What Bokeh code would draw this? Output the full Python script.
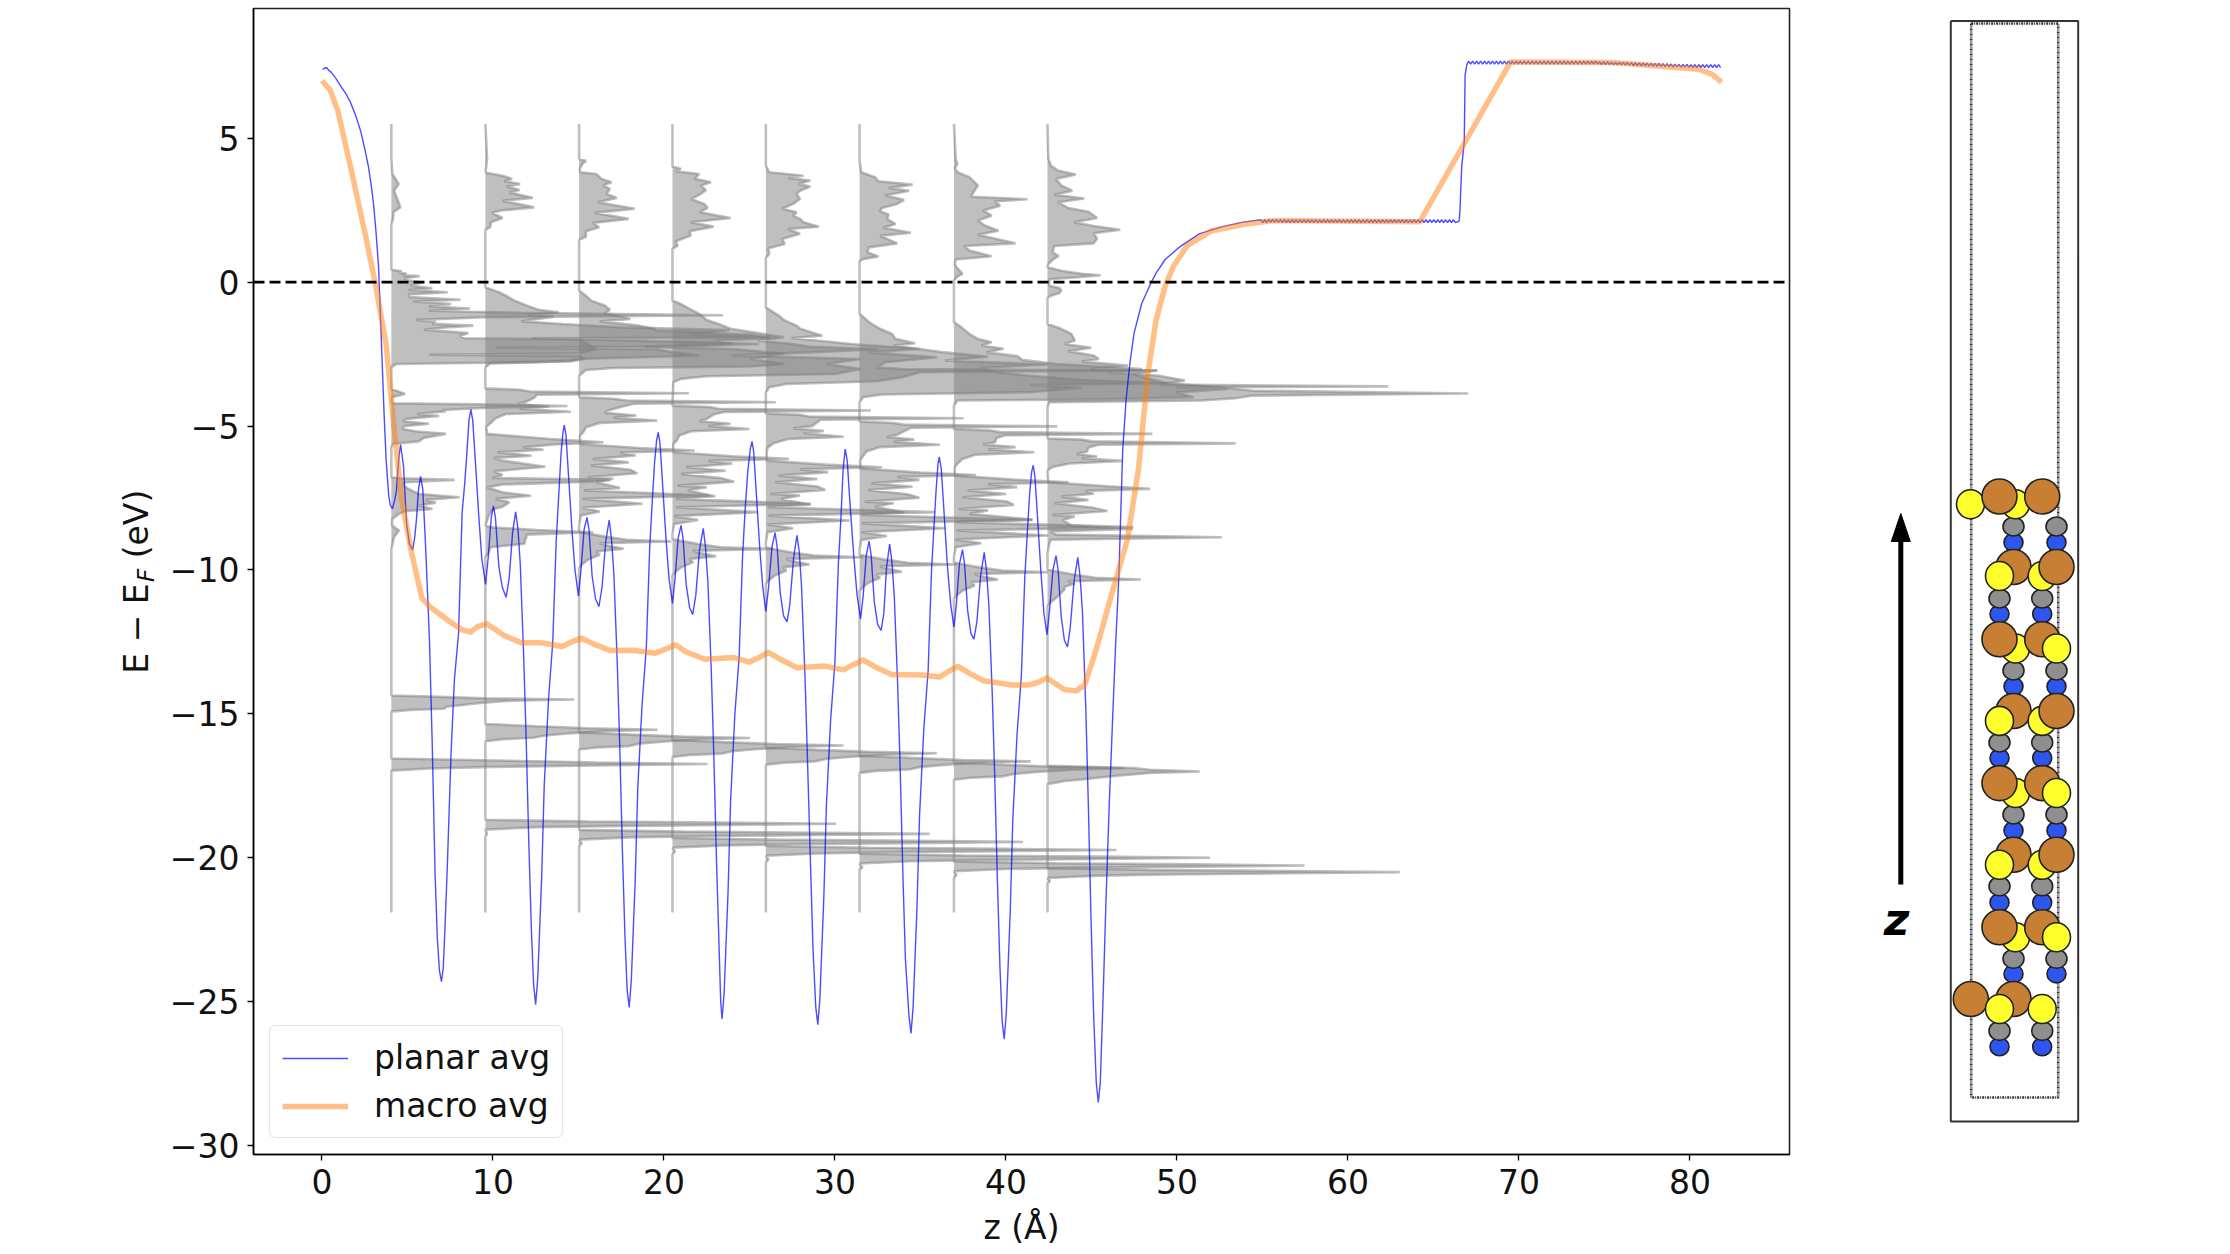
import math
import numpy as np
from bokeh.core.properties import value
from bokeh.embed import file_html
from bokeh.layouts import row
from bokeh.models import ColumnDataSource, FixedTicker, Range1d, Span
from bokeh.plotting import figure
from bokeh.resources import INLINE

x_ticks = [0, 10, 20, 30, 40, 50, 60, 70, 80]
y_ticks = [5, 0, -5, -10, -15, -20, -25, -30]
y_labels = {5: "5", 0: "0", -5: "\u22125", -10: "\u221210", -15: "\u221215", -20: "\u221220", -25: "\u221225", -30: "\u221230"}

planar_head = [(0.03,7.4),(0.27,7.46),(0.4,7.36),(0.54,7.3),(0.8,7.1),(1.08,6.83),(1.4,6.55),(1.67,6.25),(2.0,5.75),(2.27,5.24),(2.5,4.65),(2.72,4.02),(2.9,3.3),(3.02,2.72),(3.17,1.7),(3.31,0.56),(3.46,-1.75),(3.55,-3.19),(3.64,-4.63),(3.76,-6.22),(3.9,-7.37),(4.0,-7.75),(4.12,-7.87),(4.25,-7.6),(4.36,-7.23),(4.5,-6.1),(4.6,-5.64),(4.77,-6.38),(4.95,-8.38),(5.12,-9.1),(5.3,-9.3),(5.42,-8.9),(5.53,-8.24),(5.65,-7.2),(5.77,-6.75),(5.9,-7.2),(6.05,-9),(6.15,-10.4),(6.29,-12.45),(6.45,-16),(6.62,-20.6),(6.75,-22.8),(6.87,-23.9),(6.99,-24.3)]
planar_well_1 = [(7.1,-23.8),(7.2,-22.4),(7.34,-20.2),(7.55,-16.4),(7.75,-13.8),(7.99,-12.2),(8.2,-8),(8.35,-7),(8.47,-6),(8.6,-4.8),(8.71,-4.42),(8.82,-4.8),(8.95,-6),(9.16,-8),(9.35,-9.6),(9.57,-10.5),(9.72,-9.6),(9.9,-8.2),(10.03,-7.77),(10.15,-8.2),(10.35,-9.9),(10.55,-10.6),(10.77,-10.95),(10.95,-10.3),(11.15,-8.7),(11.33,-7.98),(11.47,-8.6),(11.6,-9.8),(11.8,-13),(11.95,-16),(12.1,-19.5),(12.25,-22.5),(12.38,-24.4),(12.5,-25.1)]
planar_well_2 = [(12.62,-24.2),(12.85,-20.7),(13.0,-17.5),(13.25,-14.5),(13.5,-12.5),(13.7,-9),(13.85,-7.4),(13.98,-6),(14.08,-5.3),(14.17,-4.97),(14.27,-5.3),(14.42,-6.7),(14.62,-8.6),(14.8,-10),(15,-10.9),(15.15,-10),(15.33,-8.6),(15.5,-8.17),(15.62,-8.6),(15.8,-10.2),(16,-11),(16.2,-11.27),(16.38,-10.6),(16.6,-9),(16.8,-8.27),(16.93,-8.9),(17.07,-10.1),(17.27,-13.2),(17.42,-16.2),(17.57,-19.7),(17.72,-22.7),(17.85,-24.6),(17.97,-25.2)]
planar_well_3 = [(18.09,-24.3),(18.32,-20.8),(18.47,-17.6),(18.72,-14.7),(18.97,-12.7),(19.17,-9.2),(19.32,-7.6),(19.45,-6.3),(19.57,-5.5),(19.67,-5.22),(19.77,-5.6),(19.92,-7),(20.12,-8.9),(20.3,-10.3),(20.5,-11.16),(20.65,-10.3),(20.83,-8.9),(21,-8.45),(21.12,-8.9),(21.3,-10.5),(21.5,-11.3),(21.68,-11.55),(21.86,-10.9),(22.08,-9.3),(22.3,-8.55),(22.43,-9.2),(22.57,-10.4),(22.77,-13.5),(22.92,-16.5),(23.07,-20),(23.22,-23),(23.32,-25),(23.4,-25.6)]
planar_well_4 = [(23.52,-24.7),(23.75,-21.2),(23.9,-18),(24.15,-15),(24.4,-13),(24.6,-9.5),(24.75,-7.9),(24.9,-6.6),(25.05,-5.8),(25.15,-5.53),(25.25,-5.9),(25.4,-7.3),(25.6,-9.2),(25.78,-10.6),(25.96,-11.44),(26.12,-10.6),(26.32,-9.2),(26.5,-8.7),(26.62,-9.2),(26.8,-10.8),(27,-11.6),(27.2,-11.8),(27.36,-11.2),(27.58,-9.6),(27.78,-8.8),(27.92,-9.4),(28.05,-10.6),(28.25,-13.7),(28.4,-16.7),(28.57,-20.2),(28.72,-23.2),(28.88,-25.2),(29,-25.8)]
planar_well_5 = [(29.12,-24.9),(29.35,-21.4),(29.5,-18.2),(29.75,-15.2),(30,-13.2),(30.2,-9.8),(30.35,-8.2),(30.48,-6.5),(30.6,-5.8),(30.72,-6.2),(30.87,-7.6),(31.1,-9.5),(31.3,-10.9),(31.5,-11.7),(31.65,-10.9),(31.83,-9.5),(32,-9),(32.12,-9.5),(32.3,-11.1),(32.5,-11.9),(32.7,-12.1),(32.86,-11.5),(33.02,-9.9),(33.2,-9.1),(33.33,-9.7),(33.47,-10.9),(33.67,-14),(33.82,-17),(33.97,-20.5),(34.12,-23.5),(34.33,-25.5),(34.45,-26.1)]
planar_well_6 = [(34.57,-25.2),(34.8,-21.7),(34.95,-18.5),(35.2,-15.5),(35.45,-13.5),(35.65,-10),(35.8,-8.4),(35.93,-7.1),(36.03,-6.3),(36.1,-6.07),(36.22,-6.5),(36.37,-7.9),(36.57,-9.8),(36.77,-11.2),(36.96,-11.99),(37.1,-11.2),(37.28,-9.8),(37.46,-9.29),(37.58,-9.8),(37.76,-11.4),(37.95,-12.2),(38.13,-12.4),(38.3,-11.8),(38.52,-10.2),(38.73,-9.39),(38.86,-10),(39,-11.2),(39.2,-14.3),(39.35,-17.3),(39.5,-20.8),(39.65,-23.8),(39.78,-25.7),(39.9,-26.3)]
planar_well_7 = [(40.02,-25.4),(40.25,-21.9),(40.4,-18.7),(40.65,-15.7),(40.9,-13.7),(41.1,-10.3),(41.25,-8.7),(41.38,-7.4),(41.5,-6.6),(41.6,-6.36),(41.7,-6.8),(41.85,-8.2),(42.05,-10.1),(42.22,-11.5),(42.4,-12.25),(42.55,-11.4),(42.75,-10),(42.93,-9.5),(43.05,-10),(43.23,-11.6),(43.42,-12.45),(43.6,-12.67),(43.76,-12),(43.98,-10.4),(44.2,-9.56),(44.33,-10.2),(44.47,-11.4),(44.67,-14.8),(44.82,-18.2),(44.97,-22),(45.12,-25.3),(45.28,-27.8),(45.4,-28.5)]
planar_rise = [(45.52,-27.8),(45.7,-24.5),(45.85,-21.5),(46.05,-18),(46.25,-15),(46.4,-12.8),(46.6,-10.25),(46.83,-5.8),(47.03,-4.05),(47.26,-2.76),(47.5,-1.75),(47.94,-0.74),(48.5,0),(48.8,0.33),(49.3,0.78),(50.1,1.2),(51.3,1.68),(52.6,1.92),(53.8,2.08)]
planar_plateau_low = [2.17,2.07,2.17,2.07,2.18,2.08,2.18,2.08,2.18,2.08,2.17,2.07,2.17,2.07,2.17,2.07,2.17,2.07,2.17,2.07,2.17,2.07,2.17,2.07,2.17,2.07,2.17,2.07,2.17,2.07,2.17,2.07,2.17,2.07,2.17,2.07,2.17,2.07,2.17,2.07,2.17,2.07,2.17,2.07,2.17,2.07,2.17,2.07,2.17,2.07,2.17,2.07,2.17,2.07,2.17,2.07,2.17,2.07,2.17,2.07,2.17,2.07,2.17,2.07,2.17,2.07,2.17,2.07,2.17,2.07,2.17,2.07,2.17,2.07,2.17,2.07,2.17,2.07,2.17,2.07,2.17,2.07,2.17,2.07,2.17,2.07,2.17,2.07,2.17,2.07,2.17,2.07,2.17,2.07,2.17,2.07,2.17,2.07,2.17,2.07]
planar_jump = [(66.5,2.12),(66.55,2.5),(66.65,4),(66.8,4.88),(66.85,7.2),(66.95,7.55)]
planar_plateau_high = [7.68,7.58,7.68,7.58,7.68,7.58,7.68,7.58,7.68,7.58,7.68,7.58,7.68,7.58,7.68,7.58,7.68,7.58,7.68,7.58,7.68,7.58,7.68,7.58,7.68,7.58,7.68,7.58,7.68,7.58,7.68,7.58,7.68,7.58,7.68,7.58,7.68,7.58,7.68,7.58,7.68,7.58,7.68,7.58,7.68,7.58,7.68,7.58,7.68,7.58,7.68,7.58,7.68,7.58,7.68,7.58,7.68,7.58,7.68,7.58,7.68,7.58,7.68,7.58,7.68,7.58,7.66,7.56,7.66,7.56,7.66,7.56,7.65,7.55,7.65,7.55,7.65,7.55,7.64,7.54,7.64,7.54,7.63,7.53,7.63,7.53,7.62,7.52,7.62,7.52,7.61,7.51,7.61,7.51,7.6,7.5,7.6,7.5,7.59,7.49,7.59,7.49,7.58,7.48,7.58,7.48,7.57,7.47,7.57,7.47,7.57,7.47,7.56,7.46,7.56,7.46,7.56,7.46,7.56,7.46,7.56,7.46,7.56,7.46,7.56,7.46,7.56,7.46]

macro_curve = [(0,7.0),(0.48,6.68),(0.93,5.96),(1.67,4.02),(2.57,1.57),(3.16,-0.16),(3.76,-2.18),(4.15,-4.63),(4.65,-7.5),(5.24,-9.4),(5.85,-10.98),(6.3,-11.27),(7.49,-11.8),(8.2,-12.08),(8.69,-12.16),(9.1,-11.97),(9.63,-11.87),(10.1,-12.05),(10.62,-12.27),(11.67,-12.53),(12.85,-12.53),(14.05,-12.66),(14.6,-12.5),(15.18,-12.37),(15.8,-12.55),(16.88,-12.8),(18.2,-12.79),(19.5,-12.89),(20.1,-12.75),(20.68,-12.6),(21.3,-12.85),(22.4,-13.1),(24.05,-13.04),(25.0,-13.2),(25.6,-13.03),(26.1,-12.86),(26.8,-13.1),(27.8,-13.4),(29.4,-13.34),(30.5,-13.47),(31.1,-13.28),(31.66,-13.13),(32.3,-13.35),(33.3,-13.63),(35.1,-13.65),(36.1,-13.72),(36.7,-13.5),(37.2,-13.35),(37.9,-13.6),(38.7,-13.85),(40.4,-14),(41.3,-14),(41.9,-13.9),(42.4,-13.75),(42.9,-13.95),(43.4,-14.15),(44.1,-14.2),(44.6,-14),(45.25,-12.82),(46.26,-10.68),(47.1,-8.95),(47.75,-6.5),(48.3,-3.18),(48.78,-1.32),(49.3,-0.15),(49.8,0.56),(50.6,1.27),(52,1.78),(54,2.02),(55.65,2.14),(64.2,2.1),(69.5,7.65),(75.5,7.63),(80.5,7.4),(81.3,7.22),(81.85,6.95)]

dos_baselines = [4.06, 9.56, 15.04, 20.5, 25.96, 31.44, 36.96, 42.43]
dos_top = 5.5
dos_bottom = -21.9

dos_col_1 = [(4.3,0),(3.76,0.06),(3.41,0.43),(3.18,0.16),(2.89,0.35),(2.6,0.53),(2.43,0.12),(2.2,0.1),(2.02,0),
 (0.43,0),(0.38,0.6),(0.33,0.45),(0.29,0.9),(0.24,0.65),(0.21,1.65),(0.14,0.75),(0.06,1),(0,1.8),(-0.12,1.1),(-0.21,2.4),(-0.27,1),(-0.35,3.3),(-0.43,1),(-0.52,1.1),(-0.61,4.05),(-0.67,1.25),(-0.76,3.5),(-0.84,2.2),(-0.92,4.6),(-0.99,2.2),(-1.06,7.5),(-1.15,19.4),(-1.22,5.5),(-1.31,1.45),(-1.38,2.6),(-1.45,2.4),(-1.51,4.8),(-1.57,3.2),(-1.65,1.9),(-1.71,3.2),(-1.77,4.5),(-1.86,4),(-1.95,4.3),(-1.98,11),(-2.15,11.5),(-2.32,12),(-2.47,11),(-2.52,2.2),(-2.56,11),(-2.67,11.3),(-2.75,10.5),(-2.8,5.5),(-2.84,0.3),(-2.96,0),
 (-3.71,0),(-3.88,0.8),(-4,0.05),(-4.14,0),(-4.21,0.1),(-4.24,5),(-4.3,10.3),(-4.37,5.3),(-4.44,3),(-4.48,3.2),(-4.58,1.5),(-4.65,2.8),(-4.75,0.85),(-4.83,0.7),(-4.92,2.2),(-5,0.75),(-5.1,0.65),(-5.19,1.5),(-5.27,3.2),(-5.41,1.9),(-5.53,1.6),(-5.62,0.1),(-5.74,0),
 (-6.78,0),(-6.81,0.5),(-6.87,3.7),(-6.95,0.8),(-7.07,0.7),(-7.18,1),(-7.36,1.6),(-7.47,4),(-7.57,2),(-7.66,2.6),(-7.76,1.6),(-7.88,2.4),(-7.96,0.8),(-8.05,0.45),(-8.23,0.05),(-8.46,0.05),(-8.63,0.45),(-8.86,0.15),(-9.15,0.05),(-9.27,0),
 (-14.36,0),(-14.4,2.4),(-14.46,5.5),(-14.5,10.7),(-14.54,7),(-14.62,5.2),(-14.68,4.3),(-14.75,3.2),(-14.82,3.1),(-14.86,1.1),(-14.92,0),
 (-16.55,0),(-16.62,6),(-16.69,12),(-16.74,18.5),(-16.79,12),(-16.84,6),(-16.9,2.2),(-16.97,0)]

dos_col_2 = [(4.28,0.1),(3.88,0.02),(3.8,0.04),(3.7,1.0),(3.59,1.56),(3.51,1.11),(3.41,2.03),(3.32,1.25),(3.2,2.0),(3.12,1.4),(2.93,2.77),(2.83,1.0),(2.6,2.85),(2.49,0.9),(2.41,0.4),(2.23,1.0),(2.08,0.33),(1.91,0.28),(1.82,0),
 (-0.18,0),(-0.35,0.8),(-0.47,1.2),(-0.64,1.7),(-0.81,2.4),(-0.96,3.1),(-1.05,4.3),(-1.13,2.5),(-1.2,4),(-1.36,2.1),(-1.45,4.5),(-1.57,8),(-1.66,14.3),(-1.82,12),(-1.91,16.6),(-1.95,2.7),(-2.03,9),(-2.15,16),(-2.24,11),(-2.27,0.6),(-2.33,10),(-2.44,11),(-2.55,12.5),(-2.67,5.5),(-2.72,5),(-2.78,3),(-2.82,0.3),(-2.96,0),
 (-3.69,0),(-3.74,2),(-3.8,2.6),(-3.86,11.9),(-3.91,3),(-4.0,2.9),(-4.15,2.4),(-4.23,1.9),(-4.32,3.7),(-4.4,2),(-4.5,5),(-4.58,1.2),(-4.73,0.6),(-4.9,0.3),(-5.02,0.05),
 (-5.27,0.1),(-5.45,3.8),(-5.56,6.9),(-5.64,4),(-5.74,2.2),(-5.82,3.4),(-5.91,0.7),(-6.03,2.7),(-6.11,0.5),(-6.2,1),(-6.41,3.5),(-6.57,0.5),(-6.7,1),(-6.8,0.4),(-6.87,7.3),(-6.93,6),(-7.03,1),(-7.13,0.1),(-7.3,1),(-7.42,2.67),(-7.53,0.6),(-7.65,1.4),(-7.8,1),(-7.91,0.4),(-8.11,0.2),
 (-8.45,0),(-8.52,0.4),(-8.61,3),(-8.69,6.3),(-8.77,2.4),(-8.86,2.4),(-8.98,2.3),(-9.09,2.3),(-9.21,0.3),(-9.38,0.2),(-9.56,0),
 (-15.35,0),(-15.43,3),(-15.5,6),(-15.55,10.06),(-15.6,7),(-15.68,4.8),(-15.75,3.5),(-15.83,2.8),(-15.88,1),(-15.95,0),
 (-18.68,0),(-18.74,6),(-18.78,14),(-18.82,20.5),(-18.86,14),(-18.9,7),(-18.94,3),(-19.02,0),(-19.17,0.1),(-19.25,0)]

dos_col_3 = [(4.28,0),(4.22,0.4),(4.11,0.2),(3.97,0.05),(3.82,0.05),(3.76,1),(3.59,1.3),(3.47,1.9),(3.36,1.4),(3.24,1.8),(3.07,1.6),(2.93,2.2),(2.78,1.1),(2.55,3.25),(2.41,0.9),(2.2,2.9),(2.06,0.8),(1.91,1.17),(1.77,0.4),(1.58,0.4),(1.47,0),
 (-0.29,0),(-0.47,0.4),(-0.64,0.7),(-0.81,1.5),(-0.96,1.8),(-1.08,1.5),(-1.28,3.0),(-1.36,1.2),(-1.51,3.5),(-1.62,4.4),(-1.68,4.5),(-1.82,10),(-1.94,11.2),(-2.03,8),(-2.15,9),(-2.24,3.9),(-2.32,9),(-2.49,12),(-2.67,10),(-2.84,12),(-2.93,10),(-2.98,2),(-3.05,0.4),(-3.25,0),
 (-4.0,0),(-4.05,2),(-4.11,2.8),(-4.17,11.5),(-4.22,3.2),(-4.31,2.6),(-4.46,1.7),(-4.54,1.5),(-4.63,3.35),(-4.71,2.0),(-4.81,4.56),(-4.89,1.2),(-5.04,0.4),(-5.21,0.25),(-5.33,0.05),
 (-5.62,0.05),(-5.76,3.5),(-5.85,6.76),(-5.92,2.4),(-6.02,3.3),(-6.14,0.8),(-6.26,2.9),(-6.37,0.7),(-6.52,3),(-6.64,3.4),(-6.78,0.5),(-6.83,2),(-6.95,1),(-7.15,2.4),(-7.24,0.3),(-7.41,7.6),(-7.53,0.2),(-7.7,3.7),(-7.84,0.2),(-7.97,1.2),(-8.11,0.1),(-8.45,0),
 (-8.66,0),(-8.72,0.4),(-8.84,1.5),(-8.95,2.8),(-9.01,5.4),(-9.07,1.2),(-9.15,1.6),(-9.26,2.6),(-9.36,1),(-9.47,1.2),(-9.65,0.5),(-9.82,0.15),(-9.94,0),
 (-15.64,0),(-15.72,3),(-15.79,6),(-15.84,10),(-15.89,7),(-15.97,4.8),(-16.04,3.5),(-16.12,2.9),(-16.17,1),(-16.24,0),
 (-19.03,0),(-19.09,6),(-19.13,14),(-19.17,20.5),(-19.21,14),(-19.25,7),(-19.29,3),(-19.37,0),(-19.5,0.15),(-19.6,0)]

dos_col_4 = [(4.02,0),(3.93,0.5),(3.85,0.2),(3.76,1.56),(3.59,1.3),(3.47,2.25),(3.36,1.66),(3.2,1.95),(3.07,1.66),(2.89,1.1),(2.72,1.85),(2.58,2.05),(2.43,1.6),(2.23,3.4),(2.08,1.07),(1.93,2.4),(1.77,1),(1.62,1.07),(1.42,0.2),(1.27,0.3),(1.16,0),
 (-0.64,0),(-0.76,0.5),(-0.93,1),(-1.08,1.5),(-1.31,2),(-1.45,2.7),(-1.62,3.4),(-1.77,5),(-1.91,6.5),(-2.03,5),(-2.15,7),(-2.24,8),(-2.33,12),(-2.44,8),(-2.55,3.5),(-2.67,11),(-2.84,9),(-3.02,11),(-3.19,9.5),(-3.27,2),(-3.36,0.5),(-3.48,0.05),
 (-4.29,0),(-4.34,2.2),(-4.4,2.7),(-4.46,11.6),(-4.51,3),(-4.6,2.4),(-4.75,2.0),(-4.83,1.6),(-4.92,3.4),(-5,2.1),(-5.1,4.5),(-5.18,1.1),(-5.33,0.4),(-5.5,0.25),(-5.62,0.05),
 (-5.91,0.05),(-6.05,3.5),(-6.14,6.8),(-6.21,2.1),(-6.31,3.5),(-6.43,0.8),(-6.55,3.1),(-6.66,0.5),(-6.81,2.9),(-6.93,3.6),(-7.07,0.3),(-7.12,2),(-7.24,0.9),(-7.44,2.5),(-7.53,0.2),(-7.7,8.1),(-7.82,0.2),(-7.99,5),(-8.13,0.1),(-8.26,1.5),(-8.4,0.1),(-8.74,0),
 (-8.92,0),(-8.98,0.4),(-9.1,1.5),(-9.21,2.8),(-9.27,5.9),(-9.33,1.2),(-9.41,1.6),(-9.52,2.55),(-9.62,1),(-9.73,1.2),(-9.91,0.5),(-10.08,0.15),(-10.2,0),
 (-15.9,0),(-15.98,3),(-16.05,6),(-16.1,10),(-16.15,7),(-16.23,4.8),(-16.3,3.5),(-16.38,2.9),(-16.43,1),(-16.5,0),
 (-19.31,0),(-19.37,6),(-19.41,14),(-19.45,20.5),(-19.49,14),(-19.53,7),(-19.57,3),(-19.65,0),(-19.78,0.15),(-19.88,0)]

dos_col_5 = [(4.05,0),(3.82,0.2),(3.7,2.2),(3.61,1.33),(3.53,2.6),(3.41,1.9),(3.32,2.6),(3.18,2),(3.07,1.8),(2.89,2),(2.72,1.6),(2.55,0.95),(2.43,1.8),(2.31,1.6),(2.2,2),(2.08,2.2),(1.93,3.1),(1.85,1.3),(1.68,2),(1.5,0.95),(1.33,1.1),(1.18,0.15),(0.98,0.2),(0.84,0),
 (-0.87,0),(-0.99,0.3),(-1.16,0.75),(-1.33,1.1),(-1.51,1.8),(-1.62,2),(-1.86,3.3),(-1.94,1.5),(-2.05,3.4),(-2.15,5),(-2.32,9),(-2.44,6),(-2.61,10),(-2.78,7),(-2.96,6.5),(-3.02,8),(-3.07,22.9),(-3.13,9),(-3.3,8),(-3.44,6.5),(-3.54,1.2),(-3.65,0.2),(-3.83,0),
 (-4.56,0),(-4.61,2),(-4.67,2.5),(-4.73,11.56),(-4.78,3.2),(-4.87,3.0),(-5.0,2.7),(-5.08,1.6),(-5.17,3.4),(-5.25,2.2),(-5.37,4.55),(-5.45,1.3),(-5.6,0.45),(-5.75,0.1),(-5.89,0.05),
 (-6.2,0.05),(-6.34,3.5),(-6.43,6.8),(-6.5,2),(-6.6,3.66),(-6.72,0.75),(-6.84,3),(-6.95,0.55),(-7.1,3),(-7.22,3.47),(-7.36,0.25),(-7.41,2),(-7.53,0.9),(-7.73,2.6),(-7.82,0.1),(-7.99,9.9),(-8.11,0.15),(-8.28,4.9),(-8.42,0.1),(-8.55,1.6),(-8.69,0.1),(-9.03,0),
 (-9.21,0),(-9.27,0.4),(-9.39,1.5),(-9.5,2.8),(-9.56,5.7),(-9.62,1.2),(-9.7,1.6),(-9.81,2.55),(-9.91,1),(-10.02,1.2),(-10.2,0.5),(-10.37,0.15),(-10.49,0),
 (-16.17,0),(-16.25,3),(-16.32,6),(-16.37,10),(-16.42,7),(-16.5,4.8),(-16.57,3.5),(-16.65,2.9),(-16.7,1),(-16.77,0),
 (-19.59,0),(-19.65,6),(-19.69,14),(-19.73,20.5),(-19.77,14),(-19.81,7),(-19.85,3),(-19.93,0),(-20.06,0.15),(-20.16,0)]

dos_col_6 = [(4.22,0),(3.82,0.1),(3.65,0.9),(3.51,1.1),(3.39,3.1),(3.27,1.7),(3.18,2.9),(3.01,1.5),(2.86,2.6),(2.72,2.2),(2.58,1.3),(2.46,1.2),(2.35,1.7),(2.2,1.6),(2.02,2.1),(1.89,1.4),(1.72,3),(1.61,1.2),(1.35,2.2),(1.21,0.55),(1.04,0.45),(0.89,1.1),(0.81,0.25),(0.73,0),
 (-1.1,0),(-1.28,0.35),(-1.45,0.7),(-1.62,1.2),(-1.8,1.9),(-1.97,2.1),(-2.12,3.25),(-2.2,2),(-2.32,3.5),(-2.44,5),(-2.59,7.5),(-2.72,5),(-2.86,11),(-2.98,7),(-3.13,8),(-3.25,10),(-3.4,13),(-3.51,18),(-3.57,10),(-3.67,13),(-3.82,10),(-3.9,1.3),(-4.0,0.2),(-4.17,0),
 (-4.84,0),(-4.89,2),(-4.95,2.6),(-5.01,11.56),(-5.06,3),(-5.15,2.7),(-5.3,2.2),(-5.38,1.6),(-5.47,3.2),(-5.55,2),(-5.65,4.7),(-5.73,1.2),(-5.88,0.4),(-6.05,0.2),(-6.17,0.05),
 (-6.47,0.05),(-6.61,3.5),(-6.7,6.8),(-6.77,2.2),(-6.87,3.5),(-6.99,0.7),(-7.11,3.1),(-7.22,0.5),(-7.37,2.8),(-7.49,3.5),(-7.63,0.3),(-7.68,2),(-7.8,0.9),(-8.0,2.6),(-8.09,0.1),(-8.26,10.1),(-8.38,0.15),(-8.55,5),(-8.69,0.1),(-8.82,1.6),(-8.96,0.1),(-9.3,0),
 (-9.46,0),(-9.52,0.4),(-9.64,1.5),(-9.75,2.8),(-9.81,5.7),(-9.87,1.2),(-9.95,1.6),(-10.06,2.48),(-10.16,1),(-10.27,1.2),(-10.45,0.5),(-10.62,0.15),(-10.74,0),
 (-16.45,0),(-16.53,3),(-16.6,6),(-16.65,10),(-16.7,7),(-16.78,4.8),(-16.85,3.5),(-16.93,2.9),(-16.98,1),(-17.05,0),
 (-19.86,0),(-19.92,6),(-19.96,14),(-20,20.5),(-20.04,14),(-20.08,7),(-20.12,3),(-20.2,0),(-20.33,0.15),(-20.43,0)]

dos_col_7 = [(4.28,0.1),(4.11,0.2),(3.97,0.05),(3.82,0.2),(3.65,0.9),(3.36,1.4),(3.18,1.2),(2.97,1),(2.88,4.3),(2.81,2.4),(2.66,2.7),(2.49,1.7),(2.31,2.2),(2.14,1.4),(1.97,1.8),(1.79,2.6),(1.65,1.4),(1.5,2.5),(1.35,3.6),(1.26,0.6),(1.1,0.9),(0.9,2.2),(0.79,0.1),(0.63,0.05),(0.52,0.15),(0.29,0.5),(0.19,0.2),(0.06,0),
 (-1.39,0),(-1.57,0.45),(-1.8,0.9),(-1.97,1.4),(-2.09,2.2),(-2.2,1.6),(-2.31,2.9),(-2.44,1.9),(-2.57,3.7),(-2.7,4),(-2.84,6),(-3.02,11),(-3.13,9),(-3.25,12),(-3.42,13.5),(-3.56,12),(-3.62,25.4),(-3.66,13),(-3.71,16),(-3.83,13),(-4.0,14),(-4.07,9),(-4.11,0.2),(-4.29,0),
 (-5.1,0),(-5.15,2.1),(-5.21,2.7),(-5.27,11.6),(-5.32,3),(-5.41,2.5),(-5.56,2.4),(-5.64,1.7),(-5.73,3.6),(-5.81,2),(-5.91,4.7),(-5.99,1.3),(-6.14,0.5),(-6.31,0.2),(-6.43,0.05),
 (-6.72,0.05),(-6.86,3.5),(-6.95,6.7),(-7.02,2),(-7.12,3.7),(-7.24,0.8),(-7.36,3.06),(-7.47,0.5),(-7.62,3.1),(-7.74,3.5),(-7.88,0.3),(-7.93,2),(-8.05,0.9),(-8.25,4.6),(-8.34,0.15),(-8.51,10.5),(-8.63,0.15),(-8.8,5.5),(-8.94,0.1),(-9.07,1.6),(-9.21,0.1),(-9.55,0),
 (-9.73,0),(-9.79,0.4),(-9.91,1.5),(-10.02,2.8),(-10.08,5.5),(-10.14,1.2),(-10.22,1.6),(-10.33,2.57),(-10.43,1),(-10.54,1.2),(-10.72,0.5),(-10.89,0.15),(-11.01,0),
 (-16.69,0),(-16.77,3),(-16.84,6),(-16.89,10),(-16.94,7),(-17.02,4.8),(-17.09,3.5),(-17.17,2.9),(-17.22,1),(-17.29,0),
 (-20.13,0),(-20.19,6),(-20.23,14),(-20.27,20.5),(-20.31,14),(-20.35,7),(-20.39,3),(-20.47,0),(-20.6,0.15),(-20.7,0)]

dos_col_8 = [(4.28,0.05),(4.05,0.2),(3.88,0.6),(3.74,1.65),(3.59,0.5),(3.36,0.8),(3.18,1.45),(3.04,0.4),(2.91,2.15),(2.78,0.6),(2.58,1.2),(2.45,2.4),(2.23,2.9),(2.08,1.55),(1.95,2.7),(1.82,4.25),(1.7,2.7),(1.51,2.9),(1.35,2.7),(1.26,0.4),(1.04,0.3),(0.91,0.65),(0.8,0.35),(0.63,0.05),(0.54,0),
 (0.52,0),(0.4,0.8),(0.29,2),(0.24,3.1),(0.17,1.8),(0.1,0.1),(-0.12,0.1),(-0.2,0.7),(-0.29,0.8),(-0.38,0.7),(-0.47,0.2),(-0.55,0),
 (-1.45,0),(-1.62,0.8),(-1.8,1.4),(-2.03,1.6),(-2.15,1),(-2.28,2.55),(-2.4,1.2),(-2.55,2.7),(-2.67,3),(-2.76,2),(-2.9,4.7),(-3.02,2.5),(-3.07,6.4),(-3.19,5),(-3.36,6),(-3.51,7),(-3.65,10),(-3.77,12),(-3.87,24.6),(-3.94,12),(-4.03,11),(-4.11,9),(-4.17,0.1),(-4.35,0),
 (-5.43,0),(-5.47,2),(-5.53,2.6),(-5.6,11),(-5.65,3),(-5.74,2.4),(-5.89,2.3),(-5.97,1.7),(-6.06,2.9),(-6.12,2),(-6.21,4.4),(-6.3,1.3),(-6.42,0.3),(-6.5,0.1),(-6.55,0),
 (-6.95,0.05),(-7.09,3.5),(-7.18,6),(-7.25,2.2),(-7.35,2.7),(-7.45,0.8),(-7.57,2.4),(-7.68,0.4),(-7.83,2.6),(-7.95,3.5),(-8.09,0.3),(-8.14,1.6),(-8.26,0.9),(-8.46,1.4),(-8.57,5),(-8.66,0.2),(-8.77,0.5),(-8.86,10.2),(-8.95,0.2),(-9.1,0.1),(-9.4,0),
 (-9.98,0),(-10.04,0.4),(-10.16,1.5),(-10.27,2.8),(-10.33,5.46),(-10.39,1.2),(-10.47,1.6),(-10.58,1),(-10.68,1),(-10.79,0.8),(-10.97,0.5),(-11.14,0.15),(-11.26,0),
 (-16.8,0),(-16.88,5),(-16.94,6),(-17.0,8.9),(-17.05,6),(-17.13,4.4),(-17.2,3.2),(-17.28,2),(-17.33,1),(-17.44,0),
 (-20.36,0),(-20.42,6),(-20.46,14),(-20.5,20.6),(-20.54,14),(-20.58,7),(-20.62,3),(-20.7,0),(-20.8,0.15),(-20.9,0)]

dos_columns = [dos_col_1, dos_col_2, dos_col_3, dos_col_4, dos_col_5, dos_col_6, dos_col_7, dos_col_8]

blue_atoms = [(2013,542),(2056,542),(1999,613.5),(2041.7,613.5),(2013,686),(2056,686),(1999,757.5),(2041.7,757.5),(2013,830),(2056,830),(1999,902),(2041.7,902),(2013,973.4),(2056,973.4),(1999,1046.3),(2041.7,1046.3)]
gray_atoms = [(2013,526),(2056,526),(1999,598),(2041.7,598),(2013,670),(2056,670),(1999,742),(2041.7,742),(2013,814),(2056,814),(1999,885.8),(2041.7,885.8),(2013,958.3),(2056,958.3),(1999,1030.4),(2041.7,1030.4)]
metal_layers = [
 ("s",1970,503.7),("s",2015,503.7),("cu",1999,496),("cu",2041.7,496),
 ("cu",2013,566.5),("s",1999,575.5),("s",2041.7,575.5),("cu",2056,566.5),
 ("s",2015,648),("cu",1999,638.8),("cu",2041.7,638.8),("s",2056,648),
 ("cu",2013,710.5),("s",1999,720.4),("s",2041.7,720.4),("cu",2056,710.5),
 ("s",2015,792.5),("cu",1999,782.6),("cu",2041.7,782.6),("s",2056,792.5),
 ("cu",2013,854.3),("s",1999,864.3),("s",2041.7,864.3),("cu",2056,854.3),
 ("s",2015,936.8),("cu",1999,926.8),("cu",2041.7,926.8),("s",2056,936.8),
 ("cu",1970.3,998.5),("cu",2013,998.5),("s",1999,1008.5),("s",2041.7,1008.5),
]
atom_style = {"cu": ("#c67f33", 35, 35), "s": ("#ffff2e", 28, 29), "c": ("#8f8f8f", 21, 19), "n": ("#2f55f0", 19, 18)}

FONT = "DejaVu Sans"
TOP_BORDER = 8
BOTTOM_BORDER = 96
HEIGHT = 1250

l = figure(width=160, height=HEIGHT, output_backend="svg", toolbar_location=None,
           x_range=Range1d(0, 160), y_range=Range1d(1154, 8),
           x_axis_type=None, y_axis_type=None,
           min_border_left=0, min_border_right=0, min_border_top=TOP_BORDER, min_border_bottom=BOTTOM_BORDER)
l.grid.visible = False
l.outline_line_color = None
label_parts = ["E \u2212 E", "F", "(eV)"]
label_x = [136, 145, 136]
label_y = [628, 575, 523.5]
label_style = ["normal", "italic", "normal"]
label_size = ["33px", "23px", "33px"]
l.text(x=label_x, y=label_y, text=label_parts, angle=[math.pi / 2] * 3, text_font=value(FONT),
       text_font_size=label_size, text_font_style=label_style, text_align="center", text_baseline="middle",
       text_color="#111111")

p = figure(width=1640, height=HEIGHT, output_backend="svg", toolbar_location=None,
           x_range=Range1d(-4.0, 85.82), y_range=Range1d(-30.31, 9.51),
           min_border_left=93, min_border_right=11, min_border_top=TOP_BORDER, min_border_bottom=BOTTOM_BORDER)
p.grid.visible = False
p.outline_line_color = "#222222"
p.outline_line_width = 1.6
p.xaxis.ticker = FixedTicker(ticks=x_ticks)
p.yaxis.ticker = FixedTicker(ticks=y_ticks)
p.yaxis.major_label_overrides = y_labels
for ax in (p.xaxis[0], p.yaxis[0]):
    ax.major_label_text_font = FONT
    ax.major_label_text_font_size = "33px"
    ax.major_label_text_color = "#111111"
    ax.major_tick_in = 0
    ax.major_tick_out = 6
    ax.major_tick_line_width = 1.3
    ax.minor_tick_line_color = None
    ax.axis_line_width = 1.5
    ax.major_label_standoff = 8
p.xaxis.axis_label = "z (\u00c5)"
p.xaxis.axis_label_text_font = FONT
p.xaxis.axis_label_text_font_size = "33px"
p.xaxis.axis_label_text_font_style = "normal"
p.xaxis.axis_label_text_color = "#111111"
p.xaxis.axis_label_standoff = 11

for base, col in zip(dos_baselines, dos_columns):
    e = [dos_top] + [c[0] for c in col] + [dos_bottom]
    w = [0.0] + [c[1] for c in col] + [0.0]
    x2 = [base + v for v in w]
    p.harea(y=e, x1=[base] * len(e), x2=x2, fill_color="gray", fill_alpha=0.5)
    p.line(x=x2, y=e, line_color="gray", line_alpha=0.5, line_width=2.6)

grid_low = np.arange(54.9, 54.9 + 0.115 * len(planar_plateau_low), 0.115)[:len(planar_plateau_low)]
grid_high = np.arange(67.06, 67.06 + 0.116 * len(planar_plateau_high), 0.116)[:len(planar_plateau_high)]
curve = planar_head + planar_well_1 + planar_well_2 + planar_well_3 + planar_well_4 + planar_well_5 + planar_well_6 + planar_well_7 + planar_rise
curve = curve + list(zip(grid_low, planar_plateau_low)) + planar_jump + list(zip(grid_high, planar_plateau_high))
p.line(x=[c[0] for c in curve], y=[c[1] for c in curve], line_color="#0000ff", line_alpha=0.7,
       line_width=1.4, legend_label="planar avg")
p.line(x=[c[0] for c in macro_curve], y=[c[1] for c in macro_curve], line_color="#ff7f0e", line_alpha=0.5,
       line_width=5.5, line_join="round", legend_label="macro avg")
p.add_layout(Span(location=0, dimension="width", line_color="black", line_width=2.8, line_dash="11 5"))

leg = p.legend[0]
leg.location = (16, 16)
leg.label_text_font = FONT
leg.label_text_font_size = "33px"
leg.label_text_color = "#111111"
leg.label_standoff = 26
leg.glyph_width = 66
leg.glyph_height = 32
leg.label_height = 32
leg.spacing = 9
leg.padding = 12
leg.margin = 0
leg.border_line_color = "#cccccc"
leg.border_line_width = 1.5
leg.background_fill_alpha = 0.8
if hasattr(leg, "border_radius"):
    leg.border_radius = 6

q = figure(width=422, height=HEIGHT, output_backend="svg", toolbar_location=None,
           x_range=Range1d(1800, 2222), y_range=Range1d(1154, 8),
           x_axis_type=None, y_axis_type=None,
           min_border_left=0, min_border_right=0, min_border_top=TOP_BORDER, min_border_bottom=BOTTOM_BORDER)
q.grid.visible = False
q.outline_line_color = None

box_x = [1950.3, 2077.7, 2077.7, 1950.3, 1950.3]
box_y = [20.4, 20.4, 1121, 1121, 20.4]
cell_x = [1970.7, 2057.7, 2057.7, 1970.7, 1970.7]
cell_y = [23, 23, 1097, 1097, 23]
q.line(x=box_x, y=box_y, line_color="#333333", line_width=2)
q.line(x=cell_x, y=cell_y, line_color="#333333", line_width=2.6, line_dash="2 1 1 1")

arrow_x = [1900.3, 1900.3]
arrow_y = [884, 540]
head_x = [1890.8, 1909.8, 1900.3]
head_y = [541, 541, 513]
q.line(x=arrow_x, y=arrow_y, line_color="black", line_width=5)
q.patch(x=head_x, y=head_y, fill_color="black", line_color="black")
q.text(x=[1896], y=[919], text=["z"], text_font=value(FONT), text_font_style="bold italic",
       text_font_size="44px", text_align="center", text_baseline="middle", text_color="black")

atoms = [("n", a, b) for a, b in blue_atoms] + [("c", a, b) for a, b in gray_atoms] + metal_layers
src = ColumnDataSource(dict(
    x=[a[1] for a in atoms], y=[a[2] for a in atoms],
    w=[atom_style[a[0]][1] for a in atoms], h=[atom_style[a[0]][2] for a in atoms],
    c=[atom_style[a[0]][0] for a in atoms]))
q.ellipse(x="x", y="y", width="w", height="h", fill_color="c", line_color="#222222", line_width=1.6, source=src)

layout = row(l, p, q)
open("out.html", "w").write(file_html(layout, INLINE))
